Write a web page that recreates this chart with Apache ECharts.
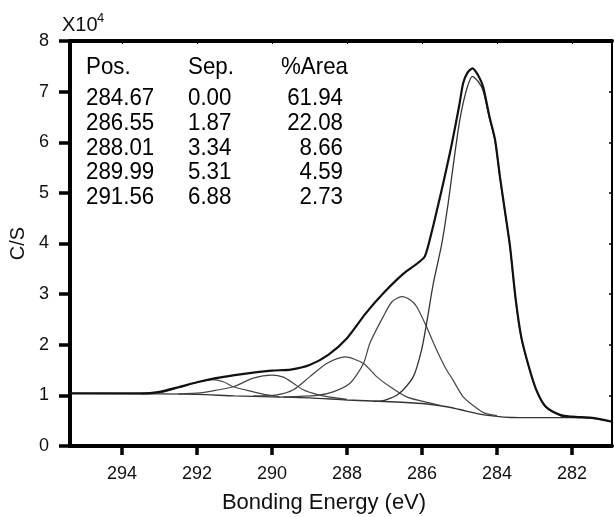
<!DOCTYPE html>
<html>
<head>
<meta charset="utf-8">
<script src="https://cdn.jsdelivr.net/npm/echarts@6/dist/echarts.min.js"></script>
<style>
html,body{margin:0;padding:0;background:#fff;}
#chart{width:614px;height:517px;}
</style>
</head>
<body>
<div id="chart"></div>
<script>
// ---- Data (intensity in units of 10^4 C/S) ----
var xTickValues = [282, 284, 286, 288, 290, 292, 294];

var envelopeE = [295.39, 294.5, 293.5, 293.0, 292.5, 292.0, 291.5, 291.0, 290.5, 290.0, 289.5, 289.0, 288.5, 288.0, 287.5, 287.0, 286.5, 286.1, 285.92, 285.75, 285.6, 285.4, 285.2, 285.0, 284.9, 284.78, 284.65, 284.5, 284.37, 284.2, 284.05, 283.92, 283.79, 283.65, 283.5, 283.35, 283.15, 282.95, 282.7, 282.3, 282.0, 281.4, 280.93];
var envelopeI = [1.04, 1.04, 1.04, 1.07, 1.16, 1.26, 1.34, 1.40, 1.45, 1.49, 1.51, 1.60, 1.80, 2.13, 2.62, 3.04, 3.40, 3.62, 3.75, 4.20, 4.66, 5.30, 5.98, 6.75, 7.17, 7.38, 7.46, 7.32, 7.10, 6.51, 6.05, 5.32, 4.66, 3.94, 2.90, 2.15, 1.57, 1.11, 0.78, 0.61, 0.58, 0.55, 0.48];

var peak1E = [287.3, 287.0, 286.6, 286.23, 286.01, 285.87, 285.7, 285.47, 285.3, 285.17, 284.99, 284.81, 284.65, 284.5, 284.37, 284.2, 284.05, 283.92, 283.79, 283.65, 283.5, 283.35, 283.15, 282.95, 282.7, 282.3, 282.0];
var peak1I = [0.88, 0.90, 1.04, 1.37, 1.90, 2.45, 3.20, 4.00, 4.80, 5.52, 6.44, 7.04, 7.30, 7.20, 7.02, 6.48, 6.03, 5.30, 4.64, 3.92, 2.88, 2.13, 1.56, 1.10, 0.77, 0.60, 0.57];

var peak2E = [289.7, 288.8, 288.37, 287.92, 287.56, 287.39, 287.03, 286.8, 286.54, 286.3, 286.14, 285.88, 285.7, 285.52, 285.34, 285.17, 284.9, 284.6, 284.36, 284.0];
var peak2I = [0.97, 1.00, 1.07, 1.24, 1.63, 2.03, 2.56, 2.85, 2.95, 2.88, 2.75, 2.36, 2.05, 1.76, 1.50, 1.30, 0.97, 0.78, 0.66, 0.60];

var peak3E = [290.5, 289.87, 289.43, 288.99, 288.54, 288.05, 287.56, 287.21, 286.85, 286.41, 285.97, 285.5];
var peak3I = [0.99, 1.01, 1.11, 1.37, 1.63, 1.76, 1.63, 1.37, 1.17, 0.97, 0.88, 0.80];

var peak4E = [292.5, 291.92, 291.5, 291.03, 290.5, 290.0, 289.7, 289.43, 289.17, 288.81, 288.4, 288.0];
var peak4I = [1.03, 1.05, 1.10, 1.17, 1.34, 1.40, 1.36, 1.24, 1.11, 1.02, 0.96, 0.92];

var peak5E = [293.5, 293.0, 292.5, 292.0, 291.6, 291.3, 291.03, 290.5, 290.14, 289.8];
var peak5I = [1.03, 1.05, 1.15, 1.26, 1.31, 1.27, 1.17, 1.07, 1.01, 0.97];

var baselineE = [295.39, 293.0, 292.0, 291.0, 290.0, 289.0, 288.0, 287.0, 286.0, 285.3, 285.0, 284.3, 283.4, 282.0, 281.4, 280.93];
var baselineI = [1.04, 1.03, 1.02, 0.99, 0.97, 0.95, 0.91, 0.88, 0.84, 0.77, 0.72, 0.61, 0.56, 0.56, 0.54, 0.48];

var tableHeader = ['Pos.', 'Sep.', '%Area'];
var tablePos = ['284.67', '286.55', '288.01', '289.99', '291.56'];
var tableSep = ['0.00', '1.87', '3.34', '5.31', '6.88'];
var tableArea = ['61.94', '22.08', '8.66', '4.59', '2.73'];

// ---- Build ----
function zip(a, b) { return a.map(function (v, i) { return [v, b[i]]; }); }
var FONT = 'Liberation Sans, Arial, sans-serif';

function lineSeries(name, E, I, color, width) {
  return {
    name: name, type: 'line', data: zip(E, I), showSymbol: false, smooth: 0.25,
    lineStyle: { color: color, width: width }, z: 3, silent: true
  };
}

var graphics = [];
function txt(x, y, text, align, size) {
  graphics.push({
    type: 'text', x: x, y: y, scaleX: 0.93, z: 10,
    style: { text: text, fontFamily: FONT, fontSize: size, fill: '#000', align: align, verticalAlign: 'middle' }
  });
}
var rowY = [98, 123, 148, 172, 197];
txt(86, 67, tableHeader[0], 'left', 24);
txt(188, 67, tableHeader[1], 'left', 24);
txt(348, 67, tableHeader[2], 'right', 24);
for (var i = 0; i < tablePos.length; i++) {
  txt(86, rowY[i], tablePos[i], 'left', 24);
  txt(188, rowY[i], tableSep[i], 'left', 24);
  txt(343, rowY[i], tableArea[i], 'right', 24);
}
graphics.push({ type: 'text', x: 62, y: 25, z: 10,
  style: { text: 'X10', fontFamily: FONT, fontSize: 20, fill: '#111', align: 'left', verticalAlign: 'middle' } });
graphics.push({ type: 'text', x: 97, y: 18, z: 10,
  style: { text: '4', fontFamily: FONT, fontSize: 13, fill: '#111', align: 'left', verticalAlign: 'middle' } });

var xMin = 280.93, xMax = 295.39;
var chart = echarts.init(document.getElementById('chart'), null, { renderer: 'canvas' });
chart.setOption({
  animation: false,
  backgroundColor: '#fff',
  grid: { left: 70, right: 2, top: 41, bottom: 71, containLabel: false, outerBoundsMode: 'none' },
  xAxis: [{
    type: 'value', inverse: true, min: xMin, max: xMax, position: 'bottom',
    axisLine: { onZero: false, lineStyle: { color: '#000', width: 4 } },
    axisTick: { show: true, inside: false, length: 9, lineStyle: { color: '#000', width: 3.5 }, customValues: xTickValues },
    axisLabel: { fontFamily: FONT, fontSize: 18, color: '#111', margin: 19, customValues: xTickValues },
    splitLine: { show: false },
    name: 'Bonding Energy (eV)', nameLocation: 'middle', nameGap: 46, nameMoveOverlap: false,
    nameTextStyle: { fontFamily: FONT, fontSize: 22, color: '#111', padding: [0, 34, 0, 0] }
  }, {
    type: 'value', inverse: true, min: xMin, max: xMax, position: 'top',
    axisLine: { onZero: false, lineStyle: { color: '#000', width: 4 } },
    axisTick: { show: true, inside: true, length: 3, lineStyle: { color: '#000', width: 1 }, customValues: xTickValues },
    axisLabel: { show: false },
    splitLine: { show: false }
  }],
  yAxis: [{
    type: 'value', min: 0, max: 8, interval: 1, position: 'left',
    axisLine: { show: true, onZero: false, lineStyle: { color: '#000', width: 4 } },
    axisTick: { show: true, inside: false, length: 11, lineStyle: { color: '#000', width: 3.5 } },
    axisLabel: { fontFamily: FONT, fontSize: 18, color: '#111', margin: 21 },
    splitLine: { show: false },
    name: 'C/S', nameLocation: 'middle', nameGap: 42, nameRotate: 90, nameMoveOverlap: false,
    nameTextStyle: { fontFamily: FONT, fontSize: 20, color: '#111' }
  }, {
    type: 'value', min: 0, max: 8, interval: 1, position: 'right',
    axisLine: { show: true, onZero: false, lineStyle: { color: '#000', width: 2 } },
    axisTick: { show: true, inside: true, length: 3, lineStyle: { color: '#000', width: 1.5 } },
    axisLabel: { show: false },
    splitLine: { show: false }
  }],
  series: [
    lineSeries('Baseline', baselineE, baselineI, '#333', 1.4),
    lineSeries('Peak 5', peak5E, peak5I, '#444', 1.2),
    lineSeries('Peak 4', peak4E, peak4I, '#444', 1.2),
    lineSeries('Peak 3', peak3E, peak3I, '#444', 1.2),
    lineSeries('Peak 2', peak2E, peak2I, '#444', 1.2),
    lineSeries('Peak 1', peak1E, peak1I, '#333', 1.3),
    lineSeries('Envelope', envelopeE, envelopeI, '#111', 2.2)
  ],
  graphic: graphics
});
</script>
</body>
</html>
